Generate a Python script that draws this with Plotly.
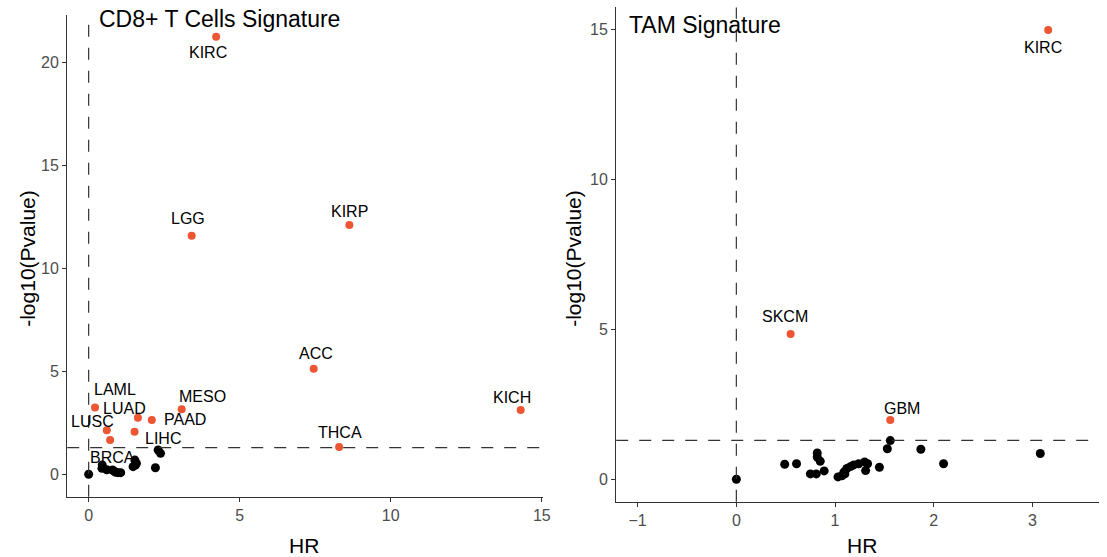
import plotly.graph_objects as go

# ---------------- data ----------------
# Left panel: CD8+ T Cells Signature
cd8_sig_names = ["KIRC", "LGG", "KIRP", "ACC", "KICH", "THCA", "MESO",
                 "LAML", "LUAD", "PAAD", "LUSC", "LIHC", ""]
cd8_sig_hr = [4.22, 3.41, 8.63, 7.45, 14.30, 8.29, 3.08,
              0.21, 1.63, 2.09, 0.60, 1.52, 0.71]
cd8_sig_logp = [21.26, 11.59, 12.11, 5.13, 3.12, 1.33, 3.16,
                3.24, 2.75, 2.64, 2.14, 2.07, 1.67]

cd8_ns_names = ["", "BRCA", "", "", "", "", "", "", "", "", "", "", "", "", "", ""]
cd8_ns_hr = [0.00, 0.45, 0.44, 0.60, 0.79, 0.90, 0.98, 1.06, 0.85,
             1.53, 1.58, 1.47, 1.55, 2.21, 2.30, 2.38]
cd8_ns_logp = [0.00, 0.45, 0.29, 0.22, 0.21, 0.10, 0.08, 0.08, 0.15,
               0.69, 0.53, 0.37, 0.45, 0.32, 1.18, 1.02]

# Right panel: TAM Signature
tam_sig_names = ["KIRC", "SKCM", "GBM"]
tam_sig_hr = [3.16, 0.55, 1.56]
tam_sig_logp = [14.98, 4.84, 1.98]

tam_ns_hr = [0.00, 0.49, 0.61, 0.82, 0.82, 0.85, 0.75, 0.81, 0.89, 1.03,
             1.07, 1.09, 1.12, 1.16, 1.10, 1.19, 1.24, 1.30, 1.33, 1.31,
             1.45, 1.53, 1.56, 1.87, 2.10, 3.08]
tam_ns_logp = [0.00, 0.50, 0.52, 0.88, 0.74, 0.60, 0.18, 0.18, 0.28, 0.08,
               0.12, 0.24, 0.36, 0.43, 0.18, 0.48, 0.52, 0.58, 0.52, 0.29,
               0.40, 1.02, 1.29, 1.00, 0.52, 0.86]

pval_cut = 1.3  # -log10(0.05)
hr_ref = 0

left_xticks = [0, 5, 10, 15]
left_yticks = [0, 5, 10, 15, 20]
right_xticks = [-1, 0, 1, 2, 3]
right_yticks = [0, 5, 10, 15]

# ---------------- label offsets (pixels: dx right, dy up) ----------------
label_offsets = {
    ("L", "KIRC"): (-8, -16), ("L", "LGG"): (-4, 17), ("L", "KIRP"): (0, 14),
    ("L", "ACC"): (2, 15), ("L", "KICH"): (-9, 13), ("L", "THCA"): (1, 14),
    ("L", "MESO"): (21, 13), ("L", "LAML"): (20, 18), ("L", "LUAD"): (-13, 9),
    ("L", "PAAD"): (33, 0), ("L", "LUSC"): (-14, 9), ("L", "LIHC"): (28, -7),
    ("L", "BRCA"): (10, 8),
    ("R", "KIRC"): (-5, -18), ("R", "SKCM"): (-6, 18), ("R", "GBM"): (12, 11),
}

RED = "#EE5533"
BLACK = "#000000"
AX = "#333333"
W, H = 1107, 557
FONT = "Liberation Sans, Arial, Helvetica, sans-serif"

fig = go.Figure()

def clamp(v):
    return max(0.0, min(1.0, v))

def px2x(p):
    return clamp(p / W)

def py2y(p):
    return clamp(1 - p / H)

# panels in pixel geometry
L_x0, L_x1, L_y0, L_y1 = 67.7, 546.5, 15.0, 496.7
R_x0, R_x1, R_y0, R_y1 = 620.7, 1107.0, 7.4, 501.7

fig.add_trace(go.Scatter(x=cd8_ns_hr, y=cd8_ns_logp, mode="markers",
                         marker=dict(color=BLACK, size=9), xaxis="x", yaxis="y",
                         showlegend=False, hoverinfo="skip"))
fig.add_trace(go.Scatter(x=cd8_sig_hr, y=cd8_sig_logp, mode="markers",
                         marker=dict(color=RED, size=8), xaxis="x", yaxis="y",
                         showlegend=False, hoverinfo="skip"))
fig.add_trace(go.Scatter(x=tam_ns_hr, y=tam_ns_logp, mode="markers",
                         marker=dict(color=BLACK, size=9), xaxis="x2", yaxis="y2",
                         showlegend=False, hoverinfo="skip"))
fig.add_trace(go.Scatter(x=tam_sig_hr, y=tam_sig_logp, mode="markers",
                         marker=dict(color=RED, size=8), xaxis="x2", yaxis="y2",
                         showlegend=False, hoverinfo="skip"))

annotations = []

def add_labels(panel, names, xs, ys, xref, yref):
    for n, x, y in zip(names, xs, ys):
        if not n:
            continue
        dx, dy = label_offsets[(panel, n)]
        annotations.append(dict(x=x, y=y, xref=xref, yref=yref, text=n,
                                showarrow=False, xshift=dx, yshift=dy,
                                font=dict(family=FONT, size=16, color="black")))

add_labels("L", cd8_sig_names, cd8_sig_hr, cd8_sig_logp, "x", "y")
add_labels("L", cd8_ns_names, cd8_ns_hr, cd8_ns_logp, "x", "y")
add_labels("R", tam_sig_names, tam_sig_hr, tam_sig_logp, "x2", "y2")

# panel titles
annotations.append(dict(x=px2x(98), y=py2y(19), xref="paper", yref="paper",
                        xanchor="left", yanchor="middle", showarrow=False,
                        text="CD8+ T Cells Signature",
                        font=dict(family=FONT, size=23, color="black")))
annotations.append(dict(x=px2x(632), y=py2y(25), xref="paper", yref="paper",
                        xanchor="left", yanchor="middle", showarrow=False,
                        text="TAM Signature",
                        font=dict(family=FONT, size=23, color="black")))
# axis titles
for cx in [306, 868]:
    annotations.append(dict(x=px2x(cx), y=py2y(545), xref="paper", yref="paper",
                            xanchor="center", yanchor="middle", showarrow=False,
                            text="HR", font=dict(family=FONT, size=21, color="black")))
for cx in [27, 577]:
    annotations.append(dict(x=px2x(cx), y=py2y(258), xref="paper", yref="paper",
                            xanchor="center", yanchor="middle", showarrow=False,
                            textangle=-90, text="-log10(Pvalue)",
                            font=dict(family=FONT, size=21, color="black")))

# reference lines
dash = "12px,11px"
shapes = [
    dict(type="line", xref="x domain", yref="y", x0=0, x1=1, y0=pval_cut, y1=pval_cut,
         line=dict(color=AX, width=1.2, dash=dash)),
    dict(type="line", xref="x", yref="y domain", x0=hr_ref, x1=hr_ref, y0=0, y1=1,
         line=dict(color=AX, width=1.2, dash=dash)),
    dict(type="line", xref="x2 domain", yref="y2", x0=0, x1=1, y0=pval_cut, y1=pval_cut,
         line=dict(color=AX, width=1.2, dash=dash)),
    dict(type="line", xref="x2", yref="y2 domain", x0=hr_ref, x1=hr_ref, y0=0, y1=1,
         line=dict(color=AX, width=1.2, dash=dash)),
]

# pixel scales
L_ppx, L_x_zero = 30.43, 89.3
L_ppy, L_y_zero = 20.58, 474.3
R_ppx, R_x_zero = 99.4, 741.7
R_ppy, R_y_zero = 30.0, 479.3

def axis_common():
    return dict(showline=True, linecolor=AX, linewidth=1.3, ticks="outside",
                ticklen=4, tickcolor=AX, tickwidth=1, showgrid=False, zeroline=False,
                tickfont=dict(family=FONT, size=16, color="#4D4D4D"))

fig.update_layout(
    width=W, height=H, margin=dict(l=0, r=0, t=0, b=0),
    paper_bgcolor="white", plot_bgcolor="white",
    xaxis=dict(domain=[px2x(L_x0), px2x(L_x1)],
               range=[(L_x0 - L_x_zero) / L_ppx, (L_x1 - L_x_zero) / L_ppx],
               tickvals=left_xticks, anchor="y", **axis_common()),
    yaxis=dict(domain=[py2y(L_y1), py2y(L_y0)],
               range=[(L_y_zero - L_y1) / L_ppy, (L_y_zero - L_y0) / L_ppy],
               tickvals=left_yticks, anchor="x", **axis_common()),
    xaxis2=dict(domain=[px2x(R_x0), px2x(R_x1)],
                range=[(R_x0 - R_x_zero) / R_ppx, (R_x1 - R_x_zero) / R_ppx],
                tickvals=right_xticks, anchor="y2", **axis_common()),
    yaxis2=dict(domain=[py2y(R_y1), py2y(R_y0)],
                range=[(R_y_zero - R_y1) / R_ppy, (R_y_zero - R_y0) / R_ppy],
                tickvals=right_yticks, anchor="x2", **axis_common()),
    annotations=annotations, shapes=shapes,
)

fig.write_html("out.html", config={"displayModeBar": False},
               post_script="document.body.style.margin='0px';document.body.style.overflow='hidden';")
